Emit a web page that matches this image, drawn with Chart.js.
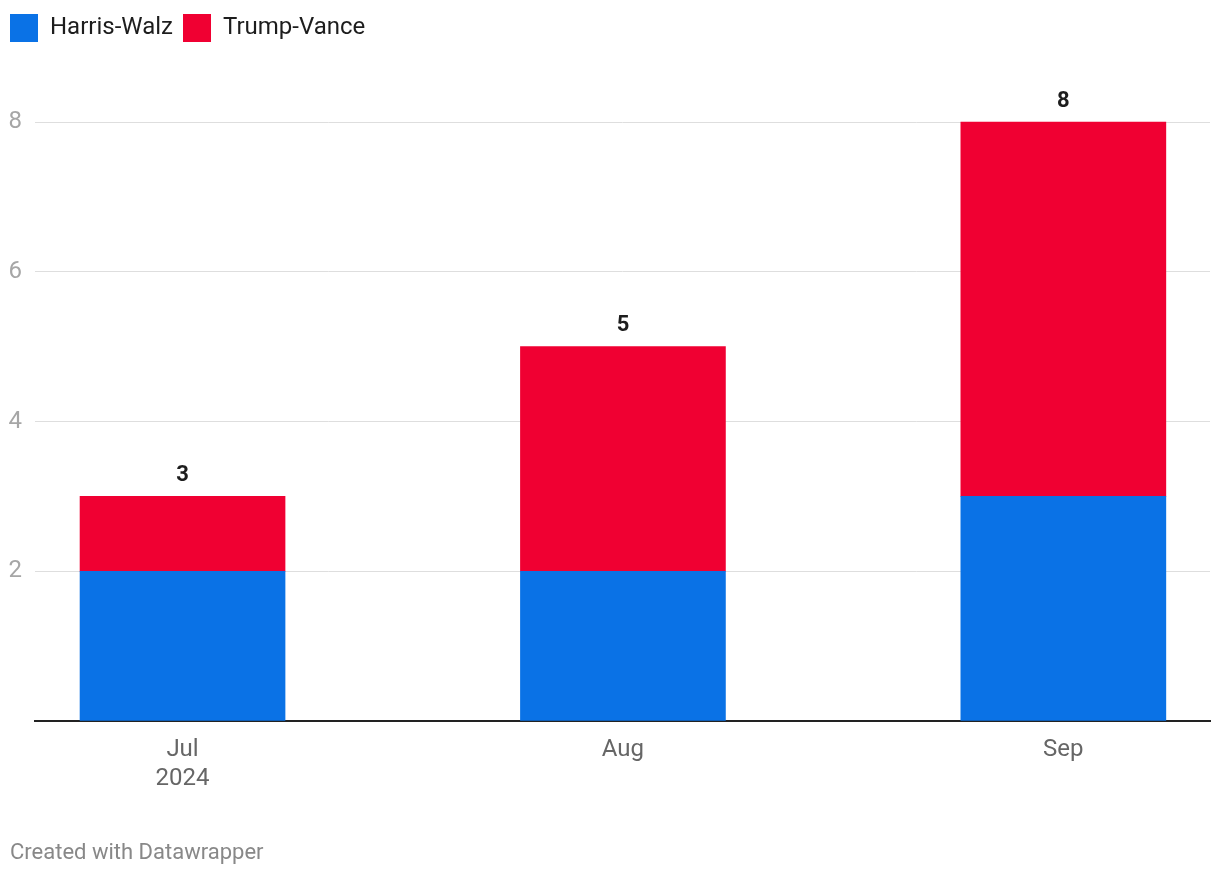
<!DOCTYPE html>
<html>
<head>
<meta charset="utf-8">
<script src="https://cdn.jsdelivr.net/npm/chart.js@4.4.1/dist/chart.umd.min.js"></script>
<style>
  body { margin: 0; background: #fff; }
  #wrap { position: relative; width: 1220px; height: 876px; }
  #credit { position: absolute; left: 10px; top: 839px; font: 22px Roboto, sans-serif; color: #888; }
</style>
</head>
<body>
<div id="wrap">
  <canvas id="mycanvas" width="1220" height="876"></canvas>
  <div id="credit">Created with Datawrapper</div>
</div>
<script>
var months = [["Jul", "2024"], "Aug", "Sep"];
var harrisWalz = [2, 2, 3];
var trumpVance = [1, 3, 5];
var yTicks = [0, 2, 4, 6, 8];

function points(arr) {
  var out = [];
  for (var i in arr) {
    out.push({ x: Number(i), y: arr[i] });
  }
  return out;
}

// totals above each stack
var totalsPlugin = {
  id: "totals",
  afterDatasetsDraw: function(chart) {
    var ctx = chart.ctx;
    var xs = chart.scales.x, ys = chart.scales.y;
    ctx.save();
    ctx.font = "bold 22px Roboto, sans-serif";
    ctx.fillStyle = "#1d1d1d";
    ctx.textAlign = "center";
    ctx.textBaseline = "middle";
    for (var i = 0; i < months.length; i++) {
      var total = harrisWalz[i] + trumpVance[i];
      ctx.fillText(total, xs.getPixelForValue(i), ys.getPixelForValue(total) - 21);
    }
    ctx.restore();
  }
};

var chartdata = {
  datasets: [
    {
      label: "Harris-Walz",
      backgroundColor: "#0a72e6",
      data: points(harrisWalz),
      barThickness: 205
    },
    {
      label: "Trump-Vance",
      backgroundColor: "#f00032",
      data: points(trumpVance),
      barThickness: 205
    }
  ]
};

var ctx = document.getElementById("mycanvas");

var BarGraph = new Chart(ctx, {
  type: "bar",
  data: chartdata,
  plugins: [totalsPlugin],
  options: {
    responsive: false,
    animation: false,
    layout: { padding: { top: 4, left: 0, right: 10, bottom: 0 } },
    plugins: {
      tooltip: { enabled: false },
      legend: {
        position: "top",
        align: "start",
        labels: {
          boxWidth: 28,
          boxHeight: 28,
          padding: 10,
          color: "#1d1d1d",
          font: { family: "Roboto", size: 24 }
        }
      }
    },
    scales: {
      x: {
        type: "linear",
        stacked: true,
        offset: false,
        bounds: "data",
        min: -0.335,
        max: 2.333,
        afterBuildTicks: function(scale) {
          scale.ticks = months.map(function(m, i) { return { value: i }; });
        },
        afterFit: function(scale) { scale.height = 155; },
        ticks: {
          autoSkip: false,
          maxRotation: 0,
          padding: 15,
          color: "#666",
          font: { family: "Roboto", size: 24, lineHeight: 1.2 },
          callback: function(v) { return months[v]; }
        },
        grid: { display: false, drawTicks: false, offset: false },
        border: { display: true, color: "#222", width: 2 }
      },
      y: {
        stacked: true,
        min: 0,
        max: 8.935,
        afterBuildTicks: function(scale) {
          scale.ticks = yTicks.map(function(v) { return { value: v }; });
        },
        afterFit: function(scale) { scale.width = 35; },
        ticks: {
          crossAlign: "near",
          padding: 13,
          color: "#a6a6a6",
          font: { family: "Roboto", size: 24 },
          callback: function(v) { return v === 0 ? "" : v; }
        },
        grid: { color: "#dedede", lineWidth: 1, drawTicks: false },
        border: { display: false }
      }
    }
  }
});
</script>
</body>
</html>
